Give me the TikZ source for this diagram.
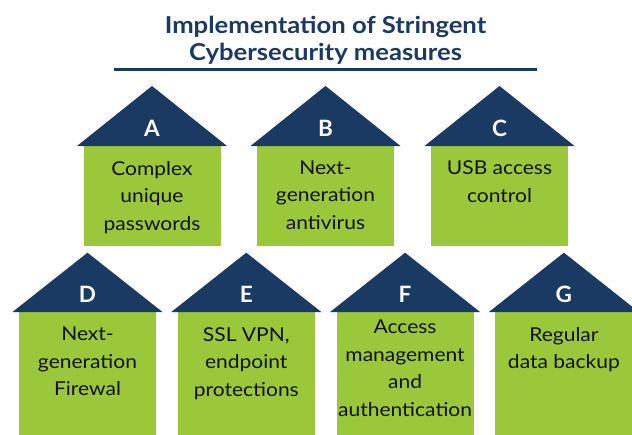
\documentclass[tikz,border=0pt]{standalone}
\usepackage{fontspec}
\setmainfont{Lato}[FakeStretch=1.1]
\newfontfamily\letterfamily{Lato}
\usetikzlibrary{calc}
\definecolor{navy}{RGB}{26,58,99}
\definecolor{leaf}{RGB}{154,200,58}
\definecolor{ink}{RGB}{17,17,17}
\newcommand\titlefont{\fontsize{23.3}{27}\selectfont\bfseries}
\newcommand\letterfont{\letterfamily\fontsize{22.5}{22.5}\selectfont\bfseries}
\newcommand\bodyfont{\fontsize{19.1}{27.5}\selectfont}
\tikzset{
  roofpart/.style={fill=navy},
  bodypart/.style={fill=leaf, minimum width=137pt, anchor=north, inner sep=0pt, outer sep=0pt},
  letterlabel/.style={text=white, font=\letterfont, anchor=base, inner sep=0pt},
  bodytext/.style={font=\bodyfont, text=ink, align=center, anchor=north, inner sep=0pt},
  titletext/.style={font=\titlefont, text=navy, anchor=base, inner sep=0pt},
}
% #1 name, #2 centre x, #3 apex y, #4 base y, #5 body height, #6 letter, #7 text top y, #8 text
\newcommand\myhouse[8]{%
  \node[bodypart, minimum height=#5pt] (body#1) at (#2,#4) {};
  \coordinate (apex#1) at (#2,#3);
  \fill[roofpart] ($(body#1.north west)+(-6.5,0)$) -- (apex#1) -- ($(body#1.north east)+(6.5,0)$) -- cycle;
  \node[letterlabel] (letter#1) at ($(body#1.north)+(0,-10)$) {#6};
  \node[bodytext] (text#1) at (#2,#7) {#8};
}
\begin{document}
\begin{tikzpicture}[x=1pt,y=-1pt]
\useasboundingbox (0,0) rectangle (632,434);
\clip (0,0) rectangle (632,434);
\fill[white] (0,0) rectangle (632,434);
% title
\node[titletext] (title1) at (325.5,33) {Implementation of Stringent};
\node[titletext] (title2) at (325.5,60) {Cybersecurity measures};
\coordinate (ruleL) at (114,69.5);
\coordinate (ruleR) at (537,69.5);
\draw[navy, line width=2.2pt] (ruleL) -- (ruleR);
% top row
\myhouse{A}{152}{86}{146}{99.5}{A}{161}{Complex\\unique\\passwords}
\myhouse{B}{325.5}{86}{146}{99.5}{B}{160.5}{Next-\\generation\\antivirus}
\myhouse{C}{499.5}{86}{146}{99.5}{C}{160.5}{USB access\\control}
% bottom row
\myhouse{D}{87.5}{252.7}{312}{130}{D}{327}{Next-\\generation\\Firewal}
\myhouse{E}{246.3}{252.7}{312}{130}{E}{327}{SSL VPN,\\endpoint\\protections}
\myhouse{F}{405.1}{252.7}{312}{130}{F}{320}{Access\\management\\and\\authentication}
\myhouse{G}{563.9}{252.7}{312}{130}{G}{327}{Regular\\data backup}
\end{tikzpicture}
\end{document}
